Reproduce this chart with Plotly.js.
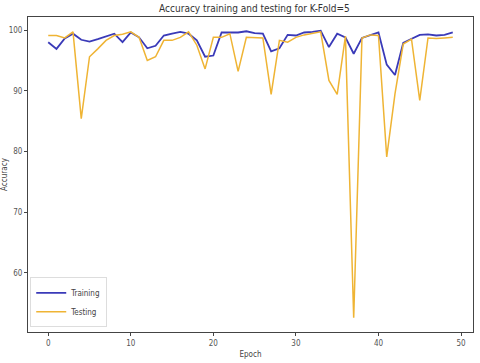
<!DOCTYPE html>
<html>
<head>
<meta charset="utf-8">
<script src="https://cdn.plot.ly/plotly-3.0.1.min.js"></script>
<style>
  html, body { margin: 0; padding: 0; background: #fff; }
  #chart { width: 480px; height: 363px; }
</style>
</head>
<body>
<div id="chart"></div>
<script>
// accuracy per epoch
const epochs = [];
for (let i = 0; i < 50; i++) epochs.push(i);

const training = [
  98.0, 96.9, 98.6, 99.4, 98.4, 98.1, 98.5, 99.0, 99.4, 98.0,
  99.6, 98.8, 97.0, 97.4, 99.1, 99.4, 99.7, 99.4, 98.3, 95.6,
  95.8, 99.6, 99.6, 99.6, 99.8, 99.5, 99.4, 96.5, 97.0, 99.2,
  99.1, 99.6, 99.7, 99.9, 97.2, 99.4, 98.8, 96.1, 98.7, 99.2,
  99.6, 94.3, 92.6, 97.9, 98.5, 99.2, 99.3, 99.1, 99.2, 99.6
];

const testing = [
  99.1, 99.1, 98.7, 99.7, 85.4, 95.6, 96.9, 98.3, 99.1, 99.3,
  99.7, 98.8, 95.0, 95.6, 98.3, 98.3, 98.8, 99.7, 97.5, 93.6,
  98.8, 98.8, 99.4, 93.2, 98.8, 98.8, 98.7, 89.4, 98.3, 98.0,
  98.8, 99.2, 99.4, 99.7, 91.7, 89.4, 99.0, 52.6, 98.7, 99.2,
  99.1, 79.1, 89.5, 97.7, 98.5, 88.4, 98.7, 98.6, 98.7, 98.8
];

const font = '"Liberation Sans Narrow", "DejaVu Sans Condensed", sans-serif';

const data = [
  {
    type: 'scatter', mode: 'lines', name: 'Training',
    x: epochs, y: training,
    line: {color: '#3a3ab8', width: 1.8}
  },
  {
    type: 'scatter', mode: 'lines', name: 'Testing',
    x: epochs, y: testing,
    line: {color: '#efb434', width: 1.5}
  }
];

const axisStyle = {
  showline: true, mirror: true, linecolor: '#444', linewidth: 1,
  showgrid: false, zeroline: false,
  ticks: 'outside', ticklen: 3, tickcolor: '#444',
  tickfont: {family: font, size: 8, color: '#555'}
};

const layout = {
  width: 480, height: 363,
  margin: {l: 28, r: 7, t: 17, b: 31},
  paper_bgcolor: '#fff', plot_bgcolor: '#fff',
  title: {
    text: 'Accuracy training and testing for K-Fold=5',
    font: {family: font, size: 10, color: '#333'},
    x: 0.53, xanchor: 'center', y: 0.985, yanchor: 'top'
  },
  xaxis: Object.assign({}, axisStyle, {
    range: [-2.45, 51.45],
    tickvals: [0, 10, 20, 30, 40, 50],
    title: {text: 'Epoch', font: {family: font, size: 8, color: '#444'}, standoff: 4}
  }),
  yaxis: Object.assign({}, axisStyle, {
    range: [50.25, 102.15],
    tickvals: [60, 70, 80, 90, 100],
    title: {text: 'Accuracy', font: {family: font, size: 8, color: '#444'}, standoff: 6}
  }),
  legend: {
    x: 0.005, y: 0.015, xanchor: 'left', yanchor: 'bottom',
    bgcolor: 'rgba(255,255,255,0.8)', bordercolor: '#ddd', borderwidth: 1,
    font: {family: font, size: 8, color: '#444'},
    itemwidth: 30, tracegroupgap: 0
  },
  showlegend: true
};

Plotly.newPlot('chart', data, layout, {staticPlot: true, displayModeBar: false});
</script>
</body>
</html>
